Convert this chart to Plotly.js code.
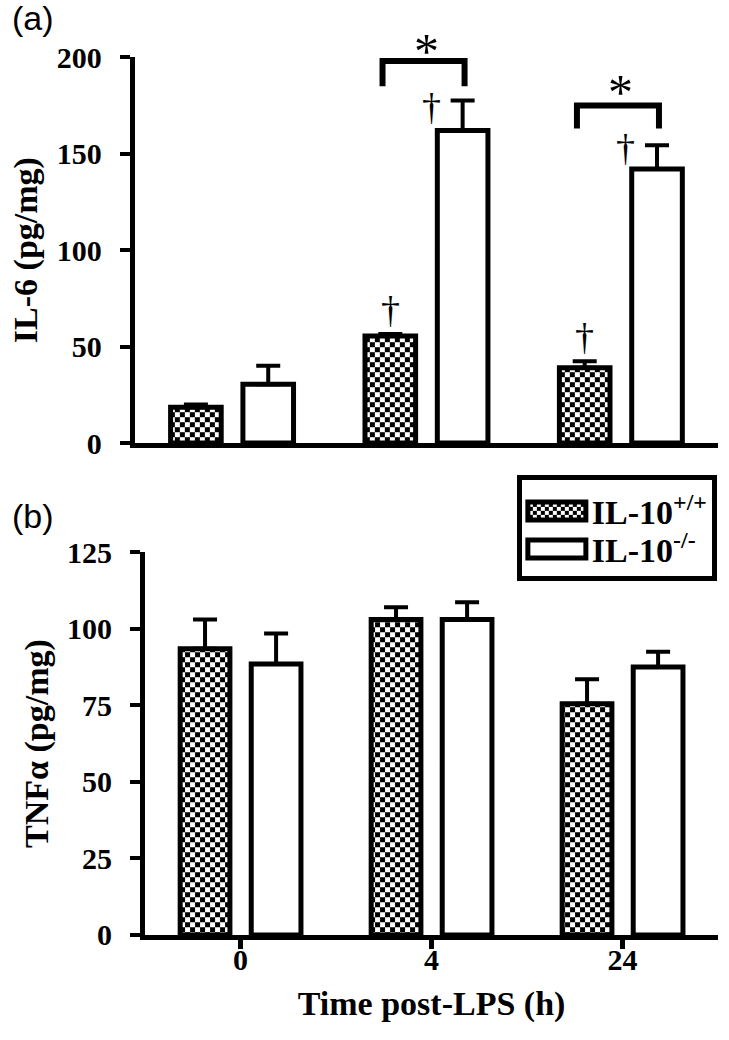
<!DOCTYPE html>
<html>
<head>
<meta charset="utf-8">
<script src="https://cdn.plot.ly/plotly-3.0.1.min.js"></script>
<style>html,body{margin:0;padding:0;background:#fff;}#chart{width:729px;height:1040px;}</style>
</head>
<body>
<div id="chart"></div>
<script>
// ---- data ----
const categories = ['0', '4', '24'];
const seriesNames = ['IL-10<sup>+/+</sup>', 'IL-10<sup>-/-</sup>'];
const il6WT = [18.5, 55.5, 39];
const il6WTErr = [1.5, 1, 3.4];
const il6KO = [30.5, 162, 142];
const il6KOErr = [9.5, 15.5, 12.4];
const tnfWT = [93.5, 103, 75.5];
const tnfWTErr = [9.5, 4, 8];
const tnfKO = [88.5, 103, 87.5];
const tnfKOErr = [10, 5.7, 5];
// significance brackets (panel a): group index, bracket top, leg bottom, star y
const sigGroups = [1, 2];
const bracketTop = [198, 175];
const bracketLeg = [185, 163];
const starY = [203, 182];
// daggers (panel a): group index, series (0 WT, 1 KO), y
const daggerGroup = [1, 1, 2, 2];
const daggerSeries = [0, 1, 0, 1];
const daggerY = [69, 174, 55, 153];

const idx = categories.map((c, i) => i);
const FONT = 'Liberation Serif';
const off = 0.186;
const IL6_MAX = 200;

function barTrace(y, err, wt, xa, ya, showleg, name) {
  const t = {
    type: 'bar', x: idx, y: y, name: name, xaxis: xa, yaxis: ya,
    showlegend: showleg,
    marker: {color: 'white', line: {color: 'black', width: 5}},
    error_y: {type: 'data', symmetric: false, array: err, arrayminus: y.map(() => 0),
              color: 'black', thickness: 4, width: 12},
    hoverinfo: 'skip'
  };
  if (wt) t.marker.pattern = {shape: '.', fgcolor: 'black', bgcolor: 'white', size: 10, solidity: 0.3};
  return t;
}

const data = [
  barTrace(il6WT, il6WTErr, true, 'x', 'y', false, seriesNames[0]),
  barTrace(il6KO, il6KOErr, false, 'x', 'y', false, seriesNames[1]),
  barTrace(tnfWT, tnfWTErr, true, 'x2', 'y2', true, seriesNames[0]),
  barTrace(tnfKO, tnfKOErr, false, 'x2', 'y2', true, seriesNames[1])
];

const shapes = sigGroups.map((g, i) => ({
  type: 'path', xref: 'x', yref: 'y',
  path: `M ${g - off - 0.04},${bracketLeg[i]} V ${bracketTop[i]} H ${g + off + 0.01} V ${bracketLeg[i]}`,
  line: {color: 'black', width: 6}
}));

const annotations = [];
sigGroups.forEach((g, i) => annotations.push({
  xref: 'x', yref: 'y domain', x: g, y: starY[i] / IL6_MAX, text: '*', showarrow: false,
  font: {family: FONT, size: 50, color: 'black'}, yanchor: 'middle'
}));
daggerGroup.forEach((g, i) => annotations.push({
  xref: 'x', yref: 'y', x: g + (daggerSeries[i] ? off - 0.16 : -off), y: daggerY[i], text: '†',
  showarrow: false, font: {family: FONT, size: 38, color: '#000000'}, yanchor: 'middle'
}));
annotations.push({xref: 'paper', yref: 'paper', x: 0.014, y: 1.003, xanchor: 'left', yanchor: 'top',
  text: '(a)', showarrow: false, font: {family: 'Liberation Sans', size: 34, color: 'black'}});
annotations.push({xref: 'paper', yref: 'paper', x: 0.014, y: 0.524, xanchor: 'left', yanchor: 'top',
  text: '(b)', showarrow: false, font: {family: 'Liberation Sans', size: 34, color: 'black'}});

const tickFont = {family: FONT, size: 30, color: 'black', weight: 'bold'};
const titleFont = {family: FONT, size: 34, color: '#000000', weight: 'bold'};

const layout = {
  width: 729, height: 1040,
  margin: {l: 0, r: 0, t: 0, b: 0},
  paper_bgcolor: 'white', plot_bgcolor: 'white',
  barmode: 'group', bargap: 0.256, bargroupgap: 0.3,
  showlegend: true,
  legend: {x: 0.709, y: 0.543, xanchor: 'left', yanchor: 'top', bgcolor: 'white',
           bordercolor: 'black', borderwidth: 5, itemwidth: 60, tracegroupgap: 0,
           font: {family: FONT, size: 34, color: 'black', weight: 'bold'}},
  xaxis: {domain: [0.185, 0.985], range: [-0.5, 2.5], anchor: 'y', showline: true, linewidth: 5,
          linecolor: 'black', showticklabels: false, ticks: '', showgrid: false, zeroline: false,
          tickvals: idx, ticktext: categories},
  yaxis: {domain: [0.574, 0.945], range: [0, IL6_MAX], anchor: 'x', showline: true, linewidth: 5,
          linecolor: 'black', ticks: 'outside', ticklen: 10, tickwidth: 4, tickcolor: 'black',
          tickvals: [0, 50, 100, 150, 200], showgrid: false, zeroline: false, tickfont: tickFont,
          ticklabelstandoff: 12,
          title: {text: 'IL-6 (pg/mg)', font: titleFont, standoff: 10}},
  xaxis2: {domain: [0.199, 0.985], range: [-0.5, 2.5], anchor: 'y2', showline: true, linewidth: 5,
           linecolor: 'black', ticks: 'outside', ticklen: 9, tickwidth: 5, tickcolor: 'black',
           tickvals: idx, ticktext: categories, showgrid: false, zeroline: false, tickfont: tickFont,
           ticklabelstandoff: -15,
           title: {text: 'Time post-LPS (h)', font: titleFont, standoff: 18}},
  yaxis2: {domain: [0.101, 0.469], range: [0, 125], anchor: 'x2', showline: true, linewidth: 5,
           linecolor: 'black', ticks: 'outside', ticklen: 10, tickwidth: 4, tickcolor: 'black',
           tickvals: [0, 25, 50, 75, 100, 125], showgrid: false, zeroline: false, tickfont: tickFont,
           ticklabelstandoff: 12,
           title: {text: 'TNFα (pg/mg)', font: titleFont, standoff: 10}},
  shapes: shapes,
  annotations: annotations
};

Plotly.newPlot('chart', data, layout, {staticPlot: true}).then(gd => {
  const NS = 'http://www.w3.org/2000/svg';
  const cell = 5;
  gd.querySelectorAll('pattern').forEach(p => {
    while (p.firstChild) p.removeChild(p.firstChild);
    p.setAttribute('width', 2 * cell);
    p.setAttribute('height', 2 * cell);
    const mk = (x, y, w, h, f) => {
      const r = document.createElementNS(NS, 'rect');
      r.setAttribute('x', x); r.setAttribute('y', y);
      r.setAttribute('width', w); r.setAttribute('height', h);
      r.setAttribute('fill', f);
      p.appendChild(r);
    };
    mk(0, 0, 2 * cell, 2 * cell, 'white');
    mk(0, 0, cell, cell, 'black');
    mk(cell, cell, cell, cell, 'black');
  });
  gd.querySelectorAll('.legend .legendpoints path').forEach(pth => {
    pth.setAttribute('d', 'M29,9H-29V-9H29Z');
    pth.style.strokeWidth = '5px';
  });
  // tighten legend row pitch
  const leg = gd.querySelector('g.legend');
  if (leg) {
    const tr = Array.from(leg.querySelectorAll('g.traces'));
    const parse = el => {
      const m = /translate\(\s*([-\d.e]+)[ ,]+([-\d.e]+)\s*\)/.exec(el.getAttribute('transform') || '');
      return m ? [parseFloat(m[1]), parseFloat(m[2])] : null;
    };
    const abs = el => {
      const r = el.getBoundingClientRect();
      return r.top + r.height / 2;
    };
    if (tr.length === 2) {
      const c0 = abs(tr[0]), c1 = abs(tr[1]);
      const pitch = 38;
      const shift = (c1 - c0) - pitch;
      const a = parse(tr[0]), b = parse(tr[1]);
      if (a) tr[0].setAttribute('transform', `translate(${a[0]},${a[1] + 2})`);
      if (b) tr[1].setAttribute('transform', `translate(${b[0]},${b[1] - shift + 2})`);
      const bg = leg.querySelector('rect.bg');
      if (bg) bg.setAttribute('height', parseFloat(bg.getAttribute('height')) - shift);
    }
  }
});
</script>
</body>
</html>
